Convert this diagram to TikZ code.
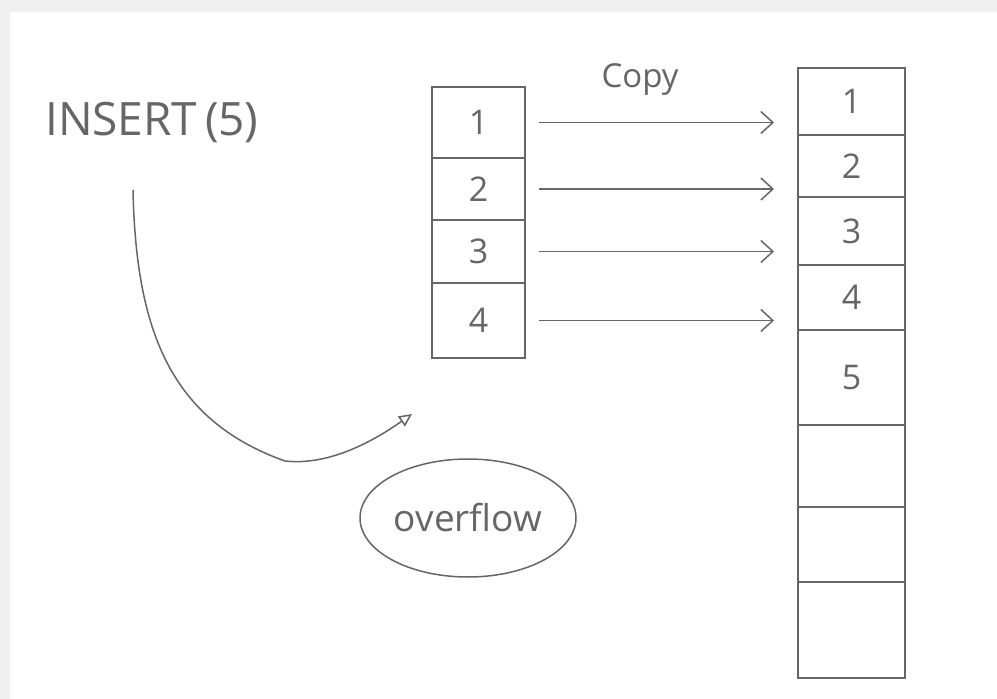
\documentclass[tikz,border=0pt]{standalone}
\usepackage{fontspec}
\setmainfont{Open Sans}
\usetikzlibrary{arrows.meta,shapes.geometric}
\definecolor{ink}{HTML}{666666}
\definecolor{frame}{HTML}{F0F0F0}
\tikzset{
  cellbox/.style={draw=ink, line width=1.5pt, rectangle, inner sep=0pt, outer sep=0pt, text=ink, font=\fontsize{34}{34}\selectfont},
  smallcell/.style={cellbox, minimum width=93pt, minimum height=#1},
  bigcell/.style={cellbox, minimum width=107pt, minimum height=#1},
  copyarrow/.style={draw=ink, line width=1.5pt, -{Straight Barb[length=12pt,width=22pt,line width=1.5pt]}, shorten <=14pt, shorten >=24pt},
  handtext/.style={text=ink, inner sep=0pt},
}
\begin{document}
\begin{tikzpicture}[x=1pt,y=-1pt]
\useasboundingbox (0,0) rectangle (997,699);
\fill[frame] (0,0) rectangle (997,699);
\fill[white] (10,12) rectangle (997,699);
% small array
\node[smallcell=71pt] (s1) at (478.5,122.5) {1};
\node[smallcell=62pt] (s2) at (478.5,189) {2};
\node[smallcell=63pt] (s3) at (478.5,251.5) {3};
\node[smallcell=75pt] (s4) at (478.5,320.5) {4};
% big array
\node[bigcell=67pt] (b1) at (851.5,101.5) {1};
\node[bigcell=62pt] (b2) at (851.5,166) {2};
\node[bigcell=68pt] (b3) at (851.5,231) {3};
\node[bigcell=65pt] (b4) at (851.5,297.5) {4};
\node[bigcell=95pt] (b5) at (851.5,377.5) {5};
\node[bigcell=82pt] (b6) at (851.5,466) {};
\node[bigcell=75pt] (b7) at (851.5,544.5) {};
\node[bigcell=96pt] (b8) at (851.5,630) {};
% copy arrows
\draw[copyarrow] (s1.east) -- (s1.east -| b1.west);
\draw[copyarrow] (s2.east) -- (s2.east -| b2.west);
\draw[copyarrow] (s3.east) -- (s3.east -| b3.west);
\draw[copyarrow] (s4.east) -- (s4.east -| b4.west);
\node[handtext, font=\fontsize{33}{33}\selectfont] (copy) at (640,80) {Copy};
% insert
\node[handtext, font=\fontsize{46}{46}\selectfont, anchor=west] (ins) at (45,122) {INSERT\,(5)};
\coordinate (cs) at (133,190);
\coordinate (ce) at (412,414);
\draw[draw=ink, line width=1.5pt, -{Triangle[open,length=13pt,width=12pt,line width=1.5pt]}]
  (cs) .. controls (136,330) and (170,420) .. (285,461) .. controls (330,466) and (375,440) .. (ce);
% overflow
\node[ellipse, draw=ink, line width=1.5pt, minimum width=216pt, minimum height=118pt, text=ink, font=\fontsize{37}{37}\selectfont, inner sep=0pt] (ovf) at (468,518) {overflow};
\end{tikzpicture}
\end{document}
